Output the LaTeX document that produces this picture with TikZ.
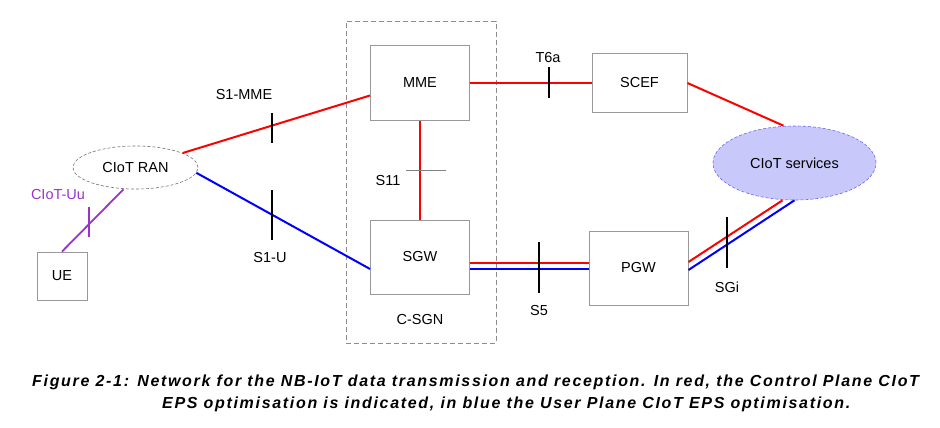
\documentclass[tikz,border=0pt]{standalone}
\usepackage{fontspec}
\setmainfont{Liberation Sans}
\newfontfamily\captionfont[LetterSpace=10.5]{Liberation Sans}
\usepackage{xcolor}
\usetikzlibrary{shapes.geometric}

\definecolor{ctrlred}{RGB}{255,0,0}
\definecolor{userblue}{RGB}{0,0,255}
\definecolor{uupurple}{RGB}{153,51,204}
\definecolor{svcfill}{RGB}{200,200,250}

\begin{document}
\begin{tikzpicture}[
  x=1pt,y=-1pt,
  every node/.style={font=\fontsize{14.5}{17}\selectfont},
  entity/.style={draw=black!40,line width=.9pt,fill=white,
    minimum width=99pt,minimum height=75pt,inner sep=0pt},
  ran/.style={ellipse,draw=black!55,densely dashed,line width=.6pt,fill=white,
    minimum width=125pt,minimum height=43pt,inner sep=0pt},
  services/.style={ellipse,draw=userblue!60,densely dashed,line width=.6pt,
    fill=svcfill,minimum width=163pt,minimum height=74pt,inner sep=0pt},
  region/.style={draw=black!45,dash pattern=on 5pt off 3pt,line width=.8pt,
    minimum width=150pt,minimum height=322pt,inner sep=0pt},
  ctrl/.style={draw=ctrlred,line width=2pt},
  user/.style={draw=userblue,line width=2pt},
  uu/.style={draw=uupurple,line width=1.8pt},
  ticker/.style={draw=black,line width=1.8pt},
  thinticker/.style={draw=black!50,line width=.7pt}
]
\useasboundingbox (0,0) rectangle (940,428);

\node[region] (csgn) at (421,182) {};
\node (csgnlabel) at (420,320) {C-SGN};

\node[entity] (mme) at (420,83) {MME};
\node[entity,minimum height=74pt] (sgw) at (420,257) {SGW};
\node[entity,minimum width=95pt,minimum height=59pt] (scef) at (639.5,83) {SCEF};
\node[entity,minimum height=74pt] (pgw) at (638.5,268) {PGW};
\node[entity,minimum width=50pt,minimum height=48pt] (ue) at (62,276) {UE};
\node[ran] (ran) at (135.5,167.5) {CIoT RAN};
\node[services] (svc) at (794.5,163) {CIoT services};

% control plane in red, user plane in blue
\draw[ctrl] (ran) -- ([yshift=-12.5pt]mme.west);
\draw[user] (ran.-5) -- ([yshift=-12pt]sgw.west);
\draw[uu] (ue.north) -- ([xshift=-12pt]ran.south);
\draw[ctrl] (mme.south) -- (sgw.north);
\draw[ctrl] (mme.east) -- (scef.west);
\draw[ctrl] ([yshift=-6pt]sgw.east) -- ([yshift=5pt]pgw.west);
\draw[user] ([yshift=-12pt]sgw.east) -- ([yshift=-1pt]pgw.west);
\draw[ctrl] (scef.east) -- ([xshift=-11pt]svc.north);
\draw[ctrl] ([yshift=6pt]pgw.east) -- ([xshift=-12pt]svc.south);
\draw[user] ([yshift=-2pt]pgw.east) -- (svc.south);

% interface ticks
\draw[ticker] (272,113) -- (272,143);
\draw[ticker] (272,190) -- (272,240);
\draw[ticker,draw=uupurple,line width=1.4pt] (89,207) -- (89,237);
\draw[thinticker] (406,170) -- (446,170);
\draw[ticker] (549,67) -- (549,98);
\draw[ticker] (539,242) -- (539,293);
\draw[ticker] (727,217) -- (727,268);

\node (s1mme) at (244,95) {S1-MME};
\node (s1u) at (270,258) {S1-U};
\node (s11) at (388,181) {S11};
\node (t6a) at (548,58) {T6a};
\node (s5) at (539,311) {S5};
\node (sgi) at (727,287) {SGi};
\node[text=uupurple] (uulabel) at (58,195) {CIoT-Uu};

\node[anchor=north west,align=left,inner sep=0pt,
  font=\captionfont\bfseries\itshape\fontsize{16}{22}\selectfont]
  (caption) at (32,375)
  {Figure 2-1: Network for the NB-IoT data transmission and reception. In red, the Control Plane CIoT\\
   \hspace*{130pt}EPS optimisation is indicated, in blue the User Plane CIoT EPS optimisation.};
\end{tikzpicture}
\end{document}
